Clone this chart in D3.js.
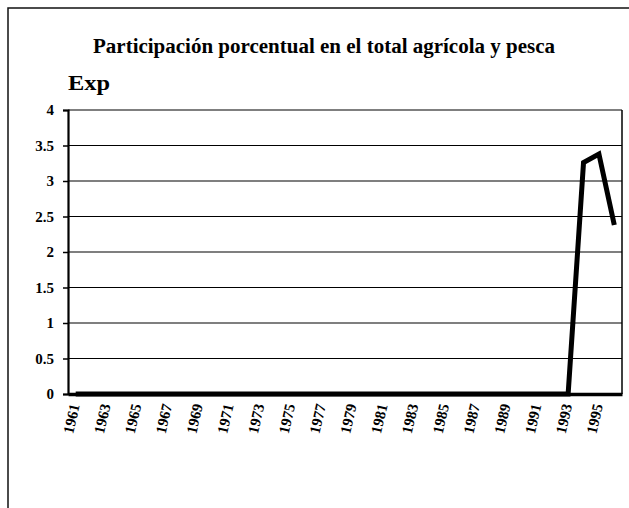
<!DOCTYPE html>
<html>
<head>
<meta charset="utf-8">
<script src="https://cdn.jsdelivr.net/npm/d3@7"></script>
<style>
  html, body { margin: 0; padding: 0; background: #fff; }
  svg { display: block; }
  text { font-family: "Liberation Serif", "Times New Roman", serif; font-weight: bold; fill: #000; }
</style>
</head>
<body>
<svg id="chart" width="629" height="508"></svg>
<script>
// Export share of the agriculture & fisheries total, 1961-1996
const years = d3.range(1961, 1997);
const expValues = [
  0, 0, 0, 0, 0, 0, 0, 0, 0, 0,
  0, 0, 0, 0, 0, 0, 0, 0, 0, 0,
  0, 0, 0, 0, 0, 0, 0, 0, 0, 0,
  0, 0, 0, 3.26, 3.38, 2.38
];
const yTicks = [0, 0.5, 1, 1.5, 2, 2.5, 3, 3.5, 4];
const xTickYears = d3.range(1961, 1996, 2);
const titleText = "Participación porcentual en el total agrícola y pesca";
const seriesLabel = "Exp";

const svg = d3.select("#chart");
const plot = { left: 68, right: 622, top: 110, bottom: 394 };
const serif = "'Liberation Serif', 'Times New Roman', serif";

svg.append("rect").attr("width", 629).attr("height", 508).attr("fill", "#fff");

// outer frame (top and left edges)
svg.append("path")
  .attr("d", "M8,508 L8,8 L629,8")
  .attr("fill", "none").attr("stroke", "#111").attr("stroke-width", 1.5);

svg.append("text")
  .attr("x", 324).attr("y", 53)
  .attr("text-anchor", "middle")
  .style("font-size", "20px")
  .attr("textLength", 462)
  .attr("lengthAdjust", "spacingAndGlyphs")
  .text(titleText);

svg.append("text")
  .attr("x", 68).attr("y", 90)
  .style("font-size", "21px")
  .attr("textLength", 42)
  .attr("lengthAdjust", "spacingAndGlyphs")
  .text(seriesLabel);

const x = d3.scaleBand().domain(years).range([plot.left, plot.right]);
const y = d3.scaleLinear().domain([0, 4]).range([plot.bottom, plot.top]);
const cx = yr => x(yr) + x.bandwidth() / 2;

// horizontal gridlines
svg.append("g")
  .selectAll("line")
  .data(yTicks.filter(v => v > 0))
  .join("line")
  .attr("x1", plot.left).attr("x2", plot.right)
  .attr("y1", d => y(d)).attr("y2", d => y(d))
  .attr("stroke", "#000").attr("stroke-width", 1.2);

// right border of plot area
svg.append("line")
  .attr("x1", plot.right).attr("x2", plot.right)
  .attr("y1", plot.top).attr("y2", plot.bottom)
  .attr("stroke", "#000").attr("stroke-width", 1.5);

// y axis
const yAxis = svg.append("g")
  .attr("transform", `translate(${plot.left},0)`)
  .call(d3.axisLeft(y).tickValues(yTicks).tickSize(5).tickPadding(9).tickFormat(d => String(d)));
yAxis.attr("font-family", serif).attr("font-size", 15);
yAxis.select(".domain").attr("stroke", "#000").attr("stroke-width", 2.2);
yAxis.selectAll(".tick line").attr("stroke", "#000").attr("stroke-width", 1.5);
yAxis.selectAll(".tick text")
  .style("font-size", "15px")
  .style("font-family", serif)
  .style("font-weight", "bold");

// x axis
const xAxis = svg.append("g")
  .attr("transform", `translate(0,${plot.bottom})`)
  .call(d3.axisBottom(x).tickValues(xTickYears).tickSize(0).tickPadding(0));
xAxis.attr("font-family", serif).attr("font-size", 15);
xAxis.select(".domain").attr("stroke", "#000").attr("stroke-width", 3.5);
xAxis.selectAll(".tick text")
  .style("font-size", "15px")
  .style("font-family", serif)
  .style("font-weight", "bold")
  .attr("text-anchor", "end")
  .attr("dy", "0.35em")
  .attr("transform", "translate(-1,10) rotate(-77)")
  .attr("x", 0).attr("y", 0);

// series line
const line = d3.line()
  .x((d, i) => cx(years[i]))
  .y(d => y(d));
svg.append("path")
  .datum(expValues)
  .attr("d", line)
  .attr("fill", "none")
  .attr("stroke", "#000")
  .attr("stroke-width", 5)
  .attr("stroke-linejoin", "miter");
</script>
</body>
</html>
